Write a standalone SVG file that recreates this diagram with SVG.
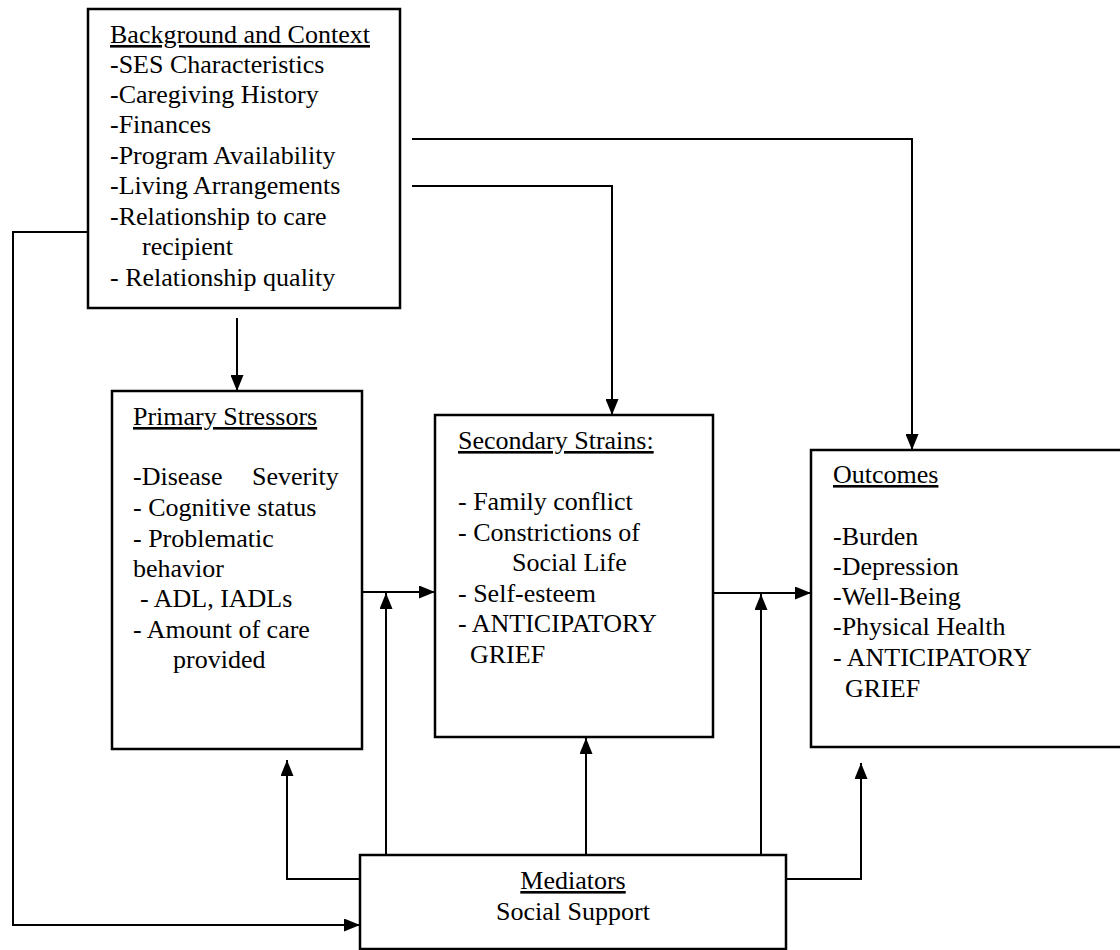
<svg xmlns="http://www.w3.org/2000/svg" width="1120" height="950" viewBox="0 0 1120 950">
<style>
  .box { fill: #ffffff; stroke: #000000; stroke-width: 2.5; }
  .t { font-family: "Liberation Serif", "Times New Roman", serif; font-size: 26px; fill: #000000; }
  .u { text-decoration: underline; }
  .c { fill: none; stroke: #000000; stroke-width: 2; }
</style>
<defs>
  <marker id="ah" markerUnits="userSpaceOnUse" markerWidth="16" markerHeight="13" refX="16" refY="6.5" orient="auto">
    <path d="M0,0 L16,6.5 L0,13 z" fill="#000000"/>
  </marker>
</defs>

<g id="connectors">
  <path class="c" d="M237,318 V391" marker-end="url(#ah)"/>
  <path class="c" d="M412,186 H612 V415" marker-end="url(#ah)"/>
  <path class="c" d="M412,139 H912 V450" marker-end="url(#ah)"/>
  <path class="c" d="M88,232 H13 V925 H360" marker-end="url(#ah)"/>
  <path class="c" d="M362,592 H435" marker-end="url(#ah)"/>
  <path class="c" d="M713,593 H811" marker-end="url(#ah)"/>
  <path class="c" d="M386,855 V593" marker-end="url(#ah)"/>
  <path class="c" d="M360,879 H287 V760" marker-end="url(#ah)"/>
  <path class="c" d="M586,855 V738" marker-end="url(#ah)"/>
  <path class="c" d="M761,855 V594" marker-end="url(#ah)"/>
  <path class="c" d="M786,879 H861 V763" marker-end="url(#ah)"/>
</g>

<g id="background">
  <rect class="box" x="88" y="9" width="312" height="299"/>
  <text class="t u" x="110" y="43">Background and Context</text>
  <text class="t" x="110" y="73">-SES Characteristics</text>
  <text class="t" x="110" y="103">-Caregiving History</text>
  <text class="t" x="110" y="133">-Finances</text>
  <text class="t" x="110" y="164">-Program Availability</text>
  <text class="t" x="110" y="194">-Living Arrangements</text>
  <text class="t" x="110" y="225">-Relationship to care</text>
  <text class="t" x="142" y="255">recipient</text>
  <text class="t" x="110" y="286">- Relationship quality</text>
</g>

<g id="primary">
  <rect class="box" x="112" y="391" width="250" height="358"/>
  <text class="t u" x="133" y="425">Primary Stressors</text>
  <text class="t" x="133" y="485">-Disease</text>
  <text class="t" x="252" y="485">Severity</text>
  <text class="t" x="133" y="516">- Cognitive status</text>
  <text class="t" x="133" y="547">- Problematic</text>
  <text class="t" x="133" y="577">behavior</text>
  <text class="t" x="140" y="607">- ADL, IADLs</text>
  <text class="t" x="133" y="638">- Amount of care</text>
  <text class="t" x="173" y="668">provided</text>
</g>

<g id="secondary">
  <rect class="box" x="435" y="415" width="278" height="322"/>
  <text class="t u" x="458" y="449">Secondary Strains:</text>
  <text class="t" x="458" y="510">- Family conflict</text>
  <text class="t" x="458" y="541">- Constrictions of</text>
  <text class="t" x="512" y="571">Social Life</text>
  <text class="t" x="458" y="602">- Self-esteem</text>
  <text class="t" x="458" y="632">- ANTICIPATORY</text>
  <text class="t" x="470" y="663">GRIEF</text>
</g>

<g id="outcomes">
  <rect class="box" x="811" y="450" width="320" height="297"/>
  <text class="t u" x="833" y="483">Outcomes</text>
  <text class="t" x="833" y="545">-Burden</text>
  <text class="t" x="833" y="575">-Depression</text>
  <text class="t" x="833" y="605">-Well-Being</text>
  <text class="t" x="833" y="635">-Physical Health</text>
  <text class="t" x="833" y="666">- ANTICIPATORY</text>
  <text class="t" x="845" y="697">GRIEF</text>
</g>

<g id="mediators">
  <rect class="box" x="360" y="855" width="426" height="94"/>
  <text class="t u" x="573" y="889" text-anchor="middle">Mediators</text>
  <text class="t" x="573" y="920" text-anchor="middle">Social Support</text>
</g>
</svg>
